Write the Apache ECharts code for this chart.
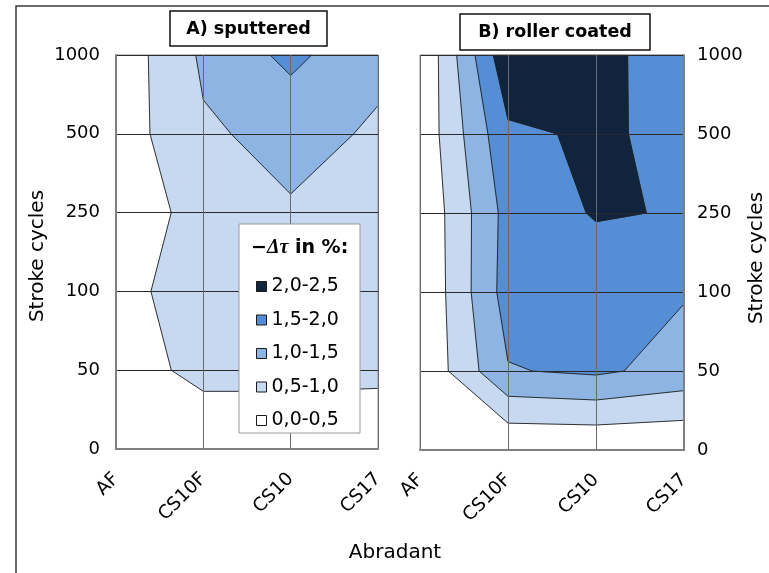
<!DOCTYPE html>
<html>
<head>
<meta charset="utf-8">
<script src="https://cdn.jsdelivr.net/npm/echarts@6/dist/echarts.min.js"></script>
<style>
    html, body { margin: 0; padding: 0; background: #fff; }
    #chart { width: 769px; height: 573px; }
</style>
</head>
<body>
<div id="chart"></div>
<script>
const abradants = ['AF', 'CS10F', 'CS10', 'CS17'];
const strokeCycles = ['0', '50', '100', '250', '500', '1000'];
const bandNames = ['0,0-0,5', '0,5-1,0', '1,0-1,5', '1,5-2,0', '2,0-2,5'];
const bandEdges = [0, 0.5, 1.0, 1.5, 2.0, 2.5];
const bandColors = ['#ffffff', '#c6d9f1', '#8db4e2', '#558ed5', '#10243e'];
const contourLevels = [0.5, 1.0, 1.5, 2.0];

// -Δτ in %, one row per stroke cycles (0 ... 1000), columns = abradants
const sputtered = [
    [0.10, 0.20, 0.20, 0.20],   // 0
    [0.31, 0.61, 0.61, 0.59],   // 50
    [0.30, 0.80, 0.85, 0.80],   // 100
    [0.07, 0.75, 0.96, 0.80],   // 250
    [0.22, 0.94, 1.13, 0.95],   // 500
    [0.16, 1.08, 1.63, 1.09]    // 1000
];
const rollerCoated = [
    [0.00, 0.00, 0.00, 0.00],   // 0
    [0.04, 1.47, 1.58, 1.33],   // 50
    [0.00, 1.72, 1.68, 1.53],   // 100
    [0.04, 1.68, 2.04, 1.97],   // 250
    [0.11, 1.91, 2.07, 1.88],   // 500
    [0.00, 2.40, 2.14, 1.75]    // 1000
];

// cells of the grid (lower left corner)
const cells = [];
for (let j = 0; j < strokeCycles.length - 1; j++) {
    for (let i = 0; i < abradants.length - 1; i++) cells.push([i, j]);
}

function corners(z, i, j) {
    return [[i, j, z[j][i]], [i + 1, j, z[j][i + 1]], [i + 1, j + 1, z[j + 1][i + 1]], [i, j + 1, z[j + 1][i]]];
}
function cut(a, b, lvl) {
    const t = (lvl - a[2]) / (b[2] - a[2]);
    return [a[0] + t * (b[0] - a[0]), a[1] + t * (b[1] - a[1]), lvl];
}
// keep the part of the cell above (or below) a level, values linear along edges
function clip(poly, lvl, above) {
    const out = [];
    const inside = p => above ? p[2] >= lvl : p[2] <= lvl;
    for (let k = 0; k < poly.length; k++) {
        const cur = poly[k], prev = poly[(k + poly.length - 1) % poly.length];
        if (inside(cur)) {
            if (!inside(prev)) out.push(cut(prev, cur, lvl));
            out.push(cur);
        } else if (inside(prev)) {
            out.push(cut(prev, cur, lvl));
        }
    }
    return out;
}

function bandSeries(k, z, b) {
    const color = bandColors[b];
    return {
        type: 'custom', name: bandNames[b], xAxisIndex: k, yAxisIndex: k,
        z: 2, silent: true, itemStyle: { color: color },
        data: cells,
        renderItem: function (params, api) {
            const i = api.value(0), j = api.value(1);
            let poly = corners(z, i, j);
            if (b > 0) poly = clip(poly, bandEdges[b], true);
            if (b < bandNames.length - 1) poly = clip(poly, bandEdges[b + 1], false);
            if (poly.length < 3) return null;
            return {
                type: 'polygon',
                shape: { points: poly.map(p => api.coord([p[0], p[1]])) },
                style: { fill: color, stroke: color, lineWidth: 0.7 }
            };
        }
    };
}

function lineSeries(k, z) {
    return {
        type: 'custom', name: 'lines' + k, xAxisIndex: k, yAxisIndex: k,
        z: 3, silent: true, data: cells,
        renderItem: function (params, api) {
            const i = api.value(0), j = api.value(1);
            const c = corners(z, i, j);
            const children = [];
            contourLevels.forEach(L => {
                const hits = [];
                for (let m = 0; m < 4; m++) {
                    const a = c[m], b = c[(m + 1) % 4];
                    if ((a[2] - L) * (b[2] - L) < 0) {
                        const p = cut(a, b, L);
                        hits.push(api.coord([p[0], p[1]]));
                    }
                }
                for (let m = 0; m + 1 < hits.length; m += 2) {
                    children.push({
                        type: 'line',
                        shape: { x1: hits[m][0], y1: hits[m][1], x2: hits[m + 1][0], y2: hits[m + 1][1] },
                        style: { stroke: '#1e1e1e', lineWidth: 0.9 }
                    });
                }
            });
            return { type: 'group', children: children };
        }
    };
}

const tickFont = { fontFamily: 'DejaVu Sans', fontSize: 18, color: '#000' };
const series = [];
[sputtered, rollerCoated].forEach((z, k) => {
    for (let b = 0; b < bandNames.length; b++) series.push(bandSeries(k, z, b));
    series.push(lineSeries(k, z));
});

let myChart = echarts.init(document.getElementById('chart'));
myChart.setOption({
    animation: false,
    grid: [
        { left: 116, top: 55, width: 262, height: 394, show: true, borderColor: '#8c8c8c', borderWidth: 1, z: 5 },
        { left: 420, top: 55, width: 264, height: 395, show: true, borderColor: '#8c8c8c', borderWidth: 1, z: 5 }
    ],
    xAxis: [0, 1].map(k => ({
        type: 'value', gridIndex: k, min: 0, max: 3, interval: 1, z: 5,
        axisLine: { show: true, onZero: false, lineStyle: { color: '#7f7f7f', width: 2 } },
        axisTick: { show: false },
        splitLine: { show: true, lineStyle: { color: '#6a6a6a', width: 1 } },
        axisLabel: Object.assign({}, tickFont, { fontSize: 18.5, rotate: 45, margin: 27, formatter: v => abradants[v] })
    })),
    yAxis: [0, 1].map(k => ({
        type: 'value', gridIndex: k, min: 0, max: 5, interval: 1, z: 5,
        position: k === 0 ? 'left' : 'right',
        axisLine: { show: true, onZero: false, lineStyle: { color: '#7f7f7f', width: 2 } },
        axisTick: { show: false },
        splitLine: { show: true, lineStyle: { color: '#2a2a2a', width: 1 } },
        axisLabel: Object.assign({}, tickFont, { margin: k === 0 ? 16 : 13, formatter: v => strokeCycles[v] })
    })),
    legend: {
        data: bandNames.slice().reverse(),
        orient: 'vertical', left: 256, top: 277, padding: 0,
        itemWidth: 10, itemHeight: 10, itemGap: 14.5,
        icon: 'rect', selectedMode: false, z: 20,
        itemStyle: { borderColor: '#1a1a1a', borderWidth: 1 },
        textStyle: { fontFamily: 'DejaVu Sans', fontSize: 19, color: '#000' }
    },
    graphic: [
        { type: 'rect', silent: true, z: 0, shape: { x: 16, y: 6, width: 800, height: 620 },
          style: { fill: 'none', stroke: '#3a3a3a', lineWidth: 1.5 } },
        { type: 'rect', z: 30, shape: { x: 170, y: 11, width: 157, height: 35 },
          style: { fill: '#fff', stroke: '#111', lineWidth: 1.5 } },
        { type: 'text', z: 31, x: 248.5, y: 29,
          style: { text: 'A) sputtered', fontFamily: 'DejaVu Sans', fontWeight: 'bold', fontSize: 17.5, fill: '#000', align: 'center', verticalAlign: 'middle' } },
        { type: 'rect', z: 30, shape: { x: 460, y: 14, width: 190, height: 36 },
          style: { fill: '#fff', stroke: '#111', lineWidth: 1.5 } },
        { type: 'text', z: 31, x: 555, y: 32,
          style: { text: 'B) roller coated', fontFamily: 'DejaVu Sans', fontWeight: 'bold', fontSize: 17.5, fill: '#000', align: 'center', verticalAlign: 'middle' } },
        { type: 'rect', z: 19, shape: { x: 239, y: 224, width: 121, height: 209 },
          style: { fill: '#fff', stroke: '#9a9a9a', lineWidth: 1 } },
        { type: 'text', z: 21, x: 251, y: 248,
          style: {
              text: '{m|−}{d|Δτ}{t| in %:}', verticalAlign: 'middle', fill: '#000',
              rich: {
                  m: { fontFamily: 'DejaVu Sans', fontWeight: 'bold', fontSize: 19 },
                  d: { fontFamily: 'Liberation Serif', fontStyle: 'italic', fontWeight: 'bold', fontSize: 20 },
                  t: { fontFamily: 'DejaVu Sans', fontWeight: 'bold', fontSize: 19 }
              }
          } },
        { type: 'text', x: 38, y: 256, rotation: Math.PI / 2,
          style: { text: 'Stroke cycles', fontFamily: 'DejaVu Sans', fontSize: 20, fill: '#000', align: 'center', verticalAlign: 'middle' } },
        { type: 'text', x: 757, y: 258, rotation: Math.PI / 2,
          style: { text: 'Stroke cycles', fontFamily: 'DejaVu Sans', fontSize: 20, fill: '#000', align: 'center', verticalAlign: 'middle' } },
        { type: 'text', x: 395, y: 553,
          style: { text: 'Abradant', fontFamily: 'DejaVu Sans', fontSize: 20, fill: '#000', align: 'center', verticalAlign: 'middle' } }
    ],
    series: series
});
</script>
</body>
</html>
